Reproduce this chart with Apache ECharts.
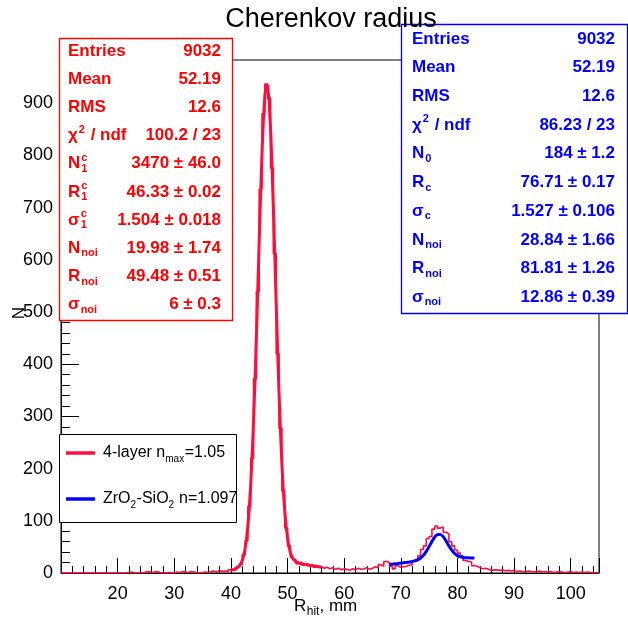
<!DOCTYPE html>
<html>
<head>
<meta charset="utf-8">
<script src="https://cdn.jsdelivr.net/npm/echarts@6/dist/echarts.min.js"></script>
<style>html,body{margin:0;padding:0;background:#fff}#c{width:628px;height:620px}</style>
</head>
<body>
<div id="c"></div>
<script>
// ---------------- data ----------------
const histMin = 10;
const binWidth = 0.5;
// red histogram (4-layer aerogel), counts per 0.5 mm bin, from 10 mm to 105 mm
const redCounts = [
  0,0, 0,0, 0,0, 0,0, 0,0, 0,0, 0,0, 0,0, 0,0, 0,0,      // 10-19
  0,0, 0,1, 2,0, 0,1, 0,2, 3,1, 2,3, 1,0, 0,1, 0,0,      // 20-29
  2,1, 3,2, 1,3, 2,1, 0,1, 2,1, 3,4, 2,5, 3,4, 2,6,      // 30-39
  5,7, 12,17, 35,62, 128,220, 372,540, 735,880, 937,910, 776,612, 420,278, 157,86, // 40-49
  52,30, 25,18, 21,15, 18,14, 16,11, 13,12, 9,11, 8,10, 7,9, 6,8,                   // 50-59
  7,5, 8,6, 9,7, 8,10, 7,9, 12,10, 16,13, 22,20, 13,8, 14,11,                        // 60-69
  12,13, 15,16, 22,26, 33,45, 52,66, 70,84, 90,86, 88,78, 75,60, 52,44,              // 70-79
  38,33, 24,22, 21,14, 13,10, 8,9, 7,5, 6,6, 5,6, 4,5, 4,5,                          // 80-89
  3,4, 3,2, 4,3, 2,3, 4,2, 3,2, 3,1, 2,3, 2,1, 2,3,                                  // 90-99
  1,2, 1,2, 1,2, 1,0, 1,0                                                            // 100-104
];
// red fit curve (thick red line)
const redFitX = [40,40.25,40.5,40.75,41,41.25,41.5,41.75,42,42.25,42.5,42.75,43,43.25,43.5,43.75,
  44,44.25,44.5,44.75,45,45.25,45.5,45.75,46,46.25,46.5,46.75,47,47.25,47.5,47.75,
  48,48.25,48.5,48.75,49,49.25,49.5,49.75,50,50.25,50.5,50.75,51,51.25,51.5,51.75,52,
  52.5,53,53.5,54,54.5,55,55.5,56];
const redFitY = [5.9,6.4,7.0,7.9,9.1,10.9,13.6,17.6,23.8,32.9,46.1,64.8,90.5,124.7,168.9,224.1,
  290.4,367.4,453.2,544.7,637.7,726.9,806.5,870.9,915.4,936.4,932.2,903.2,851.8,782.0,699.0,608.6,
  516.2,427.1,344.7,272.0,210.2,159.8,119.8,89.3,66.8,50.6,39.4,31.8,26.8,23.5,21.4,20.0,19.0,
  17.8,16.9,16.0,15.0,14.1,13.1,12.1,11.1];
// blue fit curve (ZrO2-SiO2)
const blueX = [68,68.5,69,69.5,70,70.5,71,71.5,72,72.5,73,73.5,74,74.5,75,75.5,76,76.5,77,77.5,
  78,78.5,79,79.5,80,80.5,81,81.5,82,82.5,83];
const blueY = [16.2,16.9,17.6,18.2,18.9,19.6,20.3,21.1,22.0,23.3,25.3,28.7,33.9,41.4,50.7,60.6,
  69.1,74.0,74.0,69.3,61.2,52.0,43.8,37.4,33.3,30.9,29.7,29.2,29.0,28.8,28.7];

const redLabels = [
  {m:'Entries'},{m:'Mean'},{m:'RMS'},{m:'\u03c7',sup:'2',rest:' / ndf'},
  {m:'N',sup:'c',sub:'1'},{m:'R',sup:'c',sub:'1'},{m:'\u03c3',sup:'c',sub:'1'},
  {m:'N',sub:'noi'},{m:'R',sub:'noi'},{m:'\u03c3',sub:'noi'}];
const redValues = ['9032','52.19','12.6','100.2 / 23','3470 \u00b1 46.0','46.33 \u00b1 0.02',
  '1.504 \u00b1 0.018','19.98 \u00b1 1.74','49.48 \u00b1 0.51','6 \u00b1 0.3'];
const blueLabels = [
  {m:'Entries'},{m:'Mean'},{m:'RMS'},{m:'\u03c7',sup:'2',rest:' / ndf'},
  {m:'N',sub:'0'},{m:'R',sub:'c'},{m:'\u03c3',sub:'c'},
  {m:'N',sub:'noi'},{m:'R',sub:'noi'},{m:'\u03c3',sub:'noi'}];
const blueValues = ['9032','52.19','12.6','86.23 / 23','184 \u00b1 1.2','76.71 \u00b1 0.17',
  '1.527 \u00b1 0.106','28.84 \u00b1 1.66','81.81 \u00b1 1.26','12.86 \u00b1 0.39'];

const titleText = 'Cherenkov radius';
const legendItems = [
  {color:'#ff0d3d', parts:[['4-layer n',0],['max',1],['=1.05',0]]},
  {color:'#0000ff', parts:[['ZrO',0],['2',1],['-SiO',0],['2',1],[' n=1.097',0]]}
];

// ---------------- build ----------------
const FAM = '"Liberation Sans", Arial, Helvetica, sans-serif';
const RED = '#ff0d3d', STATRED = '#ff0000', BLUE = '#0000ff';
const mctx = document.createElement('canvas').getContext('2d');
function tw(t, font){ mctx.font = font; return mctx.measureText(t).width; }

const histData = redCounts.map((v,i)=>[histMin + i*binWidth, v]);
histData.push([histMin + redCounts.length*binWidth, redCounts[redCounts.length-1]]);
const redFitData = redFitX.map((x,i)=>[x, redFitY[i]]);
const blueData = blueX.map((x,i)=>[x, blueY[i]]);

const els = [];
function txt(x,y,t,font,fill,align,z){
  els.push({type:'text', x:x, y:y, z:z||110, style:{text:t, font:font, fill:fill, align:align||'left', verticalAlign:'middle'}});
}
function statBox(box, labels, values, color, lx, vx, y0, dy){
  els.push({type:'rect', z:100, shape:{x:box[0]+0.5, y:box[1]+0.5, width:box[2]-box[0], height:box[3]-box[1]},
    style:{fill:'#fff', stroke:color, lineWidth:1.3}});
  const FB = 'bold 17px ' + FAM, FS = 'bold 11px ' + FAM;
  labels.forEach((L,i)=>{
    const y = y0 + i*dy;
    txt(lx, y, L.m, FB, color);
    let x = lx + tw(L.m, FB) + 1;
    let w = 0;
    if (L.sup){ txt(x, y-6, L.sup, FS, color); w = Math.max(w, tw(L.sup, FS)); }
    if (L.sub){ txt(x, y+5, L.sub, FS, color); w = Math.max(w, tw(L.sub, FS)); }
    if (L.rest){ txt(x + w + 1, y, L.rest, FB, color); }
    txt(vx, y, values[i], FB, color, 'right');
  });
}
statBox([59,38,232,320], redLabels, redValues, STATRED, 68, 221, 51, 28.2);
statBox([401,24,627,313], blueLabels, blueValues, BLUE, 412, 615, 39, 28.7);

// legend
els.push({type:'rect', z:100, shape:{x:59.5, y:434.5, width:177, height:88}, style:{fill:'#fff', stroke:'#000', lineWidth:1}});
legendItems.forEach((it,k)=>{
  const y = k===0 ? 453 : 499;
  els.push({type:'line', z:110, shape:{x1:66, y1:y, x2:95, y2:y}, style:{stroke:it.color, lineWidth:3.5}});
  let x = 103;
  it.parts.forEach(p=>{
    const f = p[1] ? '10px ' + FAM : '16px ' + FAM;
    txt(x, p[1] ? y+6 : y, p[0], f, '#000');
    x += tw(p[0], f) + (p[1] ? 0.5 : 0);
  });
});

// title
txt(331, 20, titleText, '27px ' + FAM, '#000', 'center', 200);
// x axis title R_hit, mm
(function(){
  const F = '17px ' + FAM, FS = '12px ' + FAM;
  let x = 294, y = 606;
  txt(x, y, 'R', F, '#000'); x += tw('R', F) + 0.5;
  txt(x, y+6, 'hit', FS, '#000'); x += tw('hit', FS);
  txt(x, y, ', mm', F, '#000');
})();
// y axis title
els.push({type:'text', x:19, y:313, rotation:Math.PI/2, z:50,
  style:{text:'N', font:'17px ' + FAM, fill:'#000', align:'center', verticalAlign:'middle'}});

const chart = echarts.init(document.getElementById('c'), null, {renderer:'canvas'});
chart.setOption({
  animation:false,
  backgroundColor:'#fff',
  textStyle:{fontFamily:FAM},
  grid:{left:61, right:29, top:60, bottom:47, show:true, borderColor:'#000', borderWidth:1, backgroundColor:'transparent'},
  xAxis:{type:'value', min:10, max:105, interval:10,
    axisLine:{show:true, lineStyle:{color:'#000', width:1}},
    axisTick:{show:true, inside:true, length:15, lineStyle:{color:'#000', width:1}},
    minorTick:{show:true, splitNumber:5, length:7, lineStyle:{color:'#000', width:1}},
    splitLine:{show:false}, minorSplitLine:{show:false},
    axisLabel:{margin:12, fontSize:18, color:'#000', fontFamily:FAM, showMinLabel:false, showMaxLabel:false}},
  yAxis:{type:'value', min:0, max:983, interval:100,
    axisLine:{show:true, lineStyle:{color:'#000', width:1}},
    axisTick:{show:true, inside:true, length:18, lineStyle:{color:'#000', width:1}},
    minorTick:{show:true, splitNumber:5, length:9, lineStyle:{color:'#000', width:1}},
    splitLine:{show:false}, minorSplitLine:{show:false},
    axisLabel:{margin:8, fontSize:18, color:'#000', fontFamily:FAM, showMaxLabel:false}},
  series:[
    {type:'line', data:histData, step:'end', showSymbol:false, symbol:'none', clip:true,
      lineStyle:{color:RED, width:1.6}, z:3},
    {type:'line', data:redFitData, showSymbol:false, symbol:'none', clip:true,
      lineStyle:{color:RED, width:3}, z:4},
    {type:'line', data:blueData, showSymbol:false, symbol:'none', clip:true, smooth:0.3,
      lineStyle:{color:BLUE, width:3}, z:5}
  ],
  graphic:{elements:els}
});
</script>
</body>
</html>
